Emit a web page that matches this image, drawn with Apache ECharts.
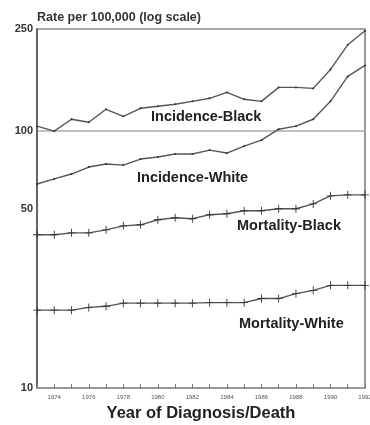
<!DOCTYPE html>
<html>
<head>
<meta charset="utf-8">
<script src="https://cdn.jsdelivr.net/npm/echarts@6/dist/echarts.min.js"></script>
<style>
  html, body { margin: 0; padding: 0; background: #fff; }
  #chart { width: 370px; height: 425px; }
</style>
</head>
<body>
<div id="chart"></div>
<script>
// years of diagnosis / death
const years = ['1973', '1974', '1975', '1976', '1977', '1978', '1979', '1980', '1981', '1982',
  '1983', '1984', '1985', '1986', '1987', '1988', '1989', '1990', '1991', '1992']

// rates per 100,000
const incidenceBlack = [104.6, 100, 111.3, 108.4, 121.7, 114.3, 122.8, 125, 127.3, 130.7,
  134.3, 141.6, 133.1, 130.7, 148.1, 148.1, 146.8, 174, 217, 246]
const incidenceWhite = [62.3, 65.2, 68.1, 72.5, 74.5, 73.8, 77.9, 79.3, 81.5, 81.5,
  84.4, 82.2, 87.5, 92.3, 101.8, 104.6, 111.3, 130.7, 163.4, 180.3]
const mortalityBlack = [39.5, 39.5, 40.2, 40.2, 41.3, 42.8, 43.2, 45.2, 46.0, 45.6,
  47.3, 47.7, 49.0, 49.0, 49.9, 49.9, 52.1, 56.0, 56.5, 56.5]
const mortalityWhite = [20.1, 20.1, 20.1, 20.6, 20.8, 21.4, 21.4, 21.4, 21.4, 21.4,
  21.5, 21.5, 21.5, 22.3, 22.3, 23.3, 24.0, 25.1, 25.1, 25.1]

const yTicks = [10, 50, 100, 250]

const font = 'Liberation Sans, Arial, sans-serif'
const lineColor = '#555'
const plus = 'path://M4,0h1v4h4v1h-4v4h-1v-4h-4v-1h4z'

const chart = echarts.init(document.getElementById('chart'))

const lineSeries = (name, data, symbol, size) => ({
  name: name,
  type: 'line',
  data: data,
  symbol: symbol,
  symbolSize: size,
  showSymbol: true,
  lineStyle: { color: lineColor, width: 1.4 },
  itemStyle: { color: '#333' },
  animation: false
})

// series name written inside the plot
const label = (text, left, top) => ({
  type: 'text',
  left: left,
  top: top,
  style: {
    text: text,
    fontFamily: font,
    fontWeight: 'bold',
    fontSize: 14.5,
    fill: '#222'
  }
})

chart.setOption({
  animation: false,
  grid: {
    left: 37,
    right: 5,
    top: 29,
    bottom: 37,
    outerBoundsMode: 'none',
    show: true,
    borderColor: '#999',
    borderWidth: 2
  },
  xAxis: {
    type: 'category',
    data: years,
    boundaryGap: false,
    name: 'Year of Diagnosis/Death',
    nameLocation: 'middle',
    nameGap: 17,
    nameTextStyle: {
      fontFamily: font,
      fontWeight: 'bold',
      fontSize: 16.5,
      color: '#222'
    },
    axisLine: { lineStyle: { color: '#999', width: 2 } },
    axisTick: { show: true, inside: true, length: 4, interval: 0, lineStyle: { color: '#777' } },
    axisLabel: {
      interval: (idx) => idx % 2 === 1,
      fontSize: 6,
      color: '#555',
      margin: 6
    },
    splitLine: { show: false }
  },
  yAxis: {
    type: 'log',
    logBase: 10,
    min: 10,
    max: 250,
    axisLine: { show: true, lineStyle: { color: '#555', width: 1.5 } },
    axisTick: { show: false },
    axisLabel: {
      customValues: yTicks,
      fontFamily: font,
      fontWeight: 'bold',
      fontSize: 11,
      color: '#333',
      margin: 4
    },
    splitLine: { show: true, lineStyle: { color: '#aaa', width: 1.5 } }
  },
  graphic: [
    {
      type: 'text',
      left: 37,
      top: 11,
      style: {
        text: 'Rate per 100,000 (log scale)',
        fontFamily: font,
        fontWeight: 'bold',
        fontSize: 12.5,
        fill: '#333'
      }
    },
    label('Incidence-Black', 151, 109),
    label('Incidence-White', 137, 170),
    label('Mortality-Black', 237, 218),
    label('Mortality-White', 239, 316)
  ],
  series: [
    lineSeries('Incidence-Black', incidenceBlack, 'circle', 2),
    lineSeries('Incidence-White', incidenceWhite, 'circle', 2),
    lineSeries('Mortality-Black', mortalityBlack, plus, 8),
    lineSeries('Mortality-White', mortalityWhite, plus, 8)
  ]
})
</script>
</body>
</html>
